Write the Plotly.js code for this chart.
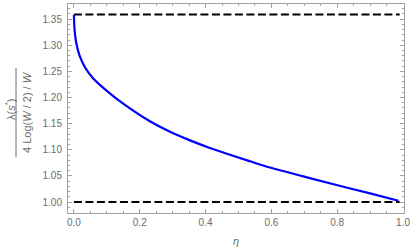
<!DOCTYPE html>
<html>
<head>
<meta charset="utf-8">
<script src="https://cdn.plot.ly/plotly-3.0.1.min.js"></script>
<style>html,body{margin:0;padding:0;background:#fff;}#chart{width:411px;height:251px;}</style>
</head>
<body>
<div id="chart"></div>
<script>
// Curve: ratio lambda(s*) / (4 Log(W/2)/W) versus eta
const etaValues = [0.0, 0.002, 0.007, 0.017, 0.033, 0.058, 0.093, 0.134, 0.231, 0.292, 0.353, 0.413, 0.474, 0.535, 0.596, 0.697, 0.798, 0.9, 0.986];
const ratioValues = [1.358, 1.3295, 1.305, 1.2805, 1.2585, 1.237, 1.2165, 1.1955, 1.1545, 1.1345, 1.118, 1.1035, 1.0905, 1.078, 1.066, 1.049, 1.0325, 1.0165, 1.0025];
// Dashed reference levels
const refX = [0.0, 0.99];
const upperLevel = [1.359, 1.359];
const lowerLevel = [1.0, 1.0];
const xTickVals = [0, 0.2, 0.4, 0.6, 0.8, 1.0];
const xTickText = ['0.0', '0.2', '0.4', '0.6', '0.8', '1.0'];
const yTickVals = [1.00, 1.05, 1.10, 1.15, 1.20, 1.25, 1.30, 1.35];
const yTickText = ['1.00', '1.05', '1.10', '1.15', '1.20', '1.25', '1.30', '1.35'];

const gray = '#6b6b6b';
const frame = '#a0a0a0';
const fontFam = '"Liberation Sans", Arial, sans-serif';

const traces = [
  {x: refX, y: upperLevel, mode: 'lines', line: {color: '#000', width: 2, dash: '8px,3.5px'}, hoverinfo: 'skip'},
  {x: refX, y: lowerLevel, mode: 'lines', line: {color: '#000', width: 2, dash: '8px,3.5px'}, hoverinfo: 'skip'},
  {x: etaValues, y: ratioValues, mode: 'lines', line: {color: '#0000ff', width: 2.2, shape: 'spline', smoothing: 1}}
];

const axisCommon = {
  showline: true, linecolor: frame, linewidth: 1, mirror: 'allticks',
  ticks: 'inside', ticklen: 4, tickcolor: frame, tickwidth: 1,
  showgrid: false, zeroline: false,
  tickfont: {family: fontFam, size: 10, color: gray}
};

const layout = {
  width: 411, height: 251,
  margin: {l: 68, r: 7, t: 4, b: 38},
  paper_bgcolor: '#fff', plot_bgcolor: '#fff',
  showlegend: false,
  xaxis: Object.assign({}, axisCommon, {
    range: [-0.018, 1.003], tickvals: xTickVals, ticktext: xTickText,
    minor: {dtick: 0.05, tick0: 0, ticks: 'inside', ticklen: 2, tickcolor: frame},
    title: {text: '<i>η</i>', font: {family: fontFam, size: 11, color: gray}, standoff: 10}
  }),
  yaxis: Object.assign({}, axisCommon, {
    range: [0.979, 1.379], tickvals: yTickVals, ticktext: yTickText,
    minor: {dtick: 0.01, tick0: 1.0, ticks: 'inside', ticklen: 2, tickcolor: frame},
    ticklabelstandoff: 3
  }),
  annotations: [
    {xref: 'paper', yref: 'paper', x: (10 - 68) / 336, y: (213 - 110) / 209, xanchor: 'center', yanchor: 'middle',
     text: 'λ(<i>s</i><sup>*</sup>)', textangle: -90, showarrow: false, font: {family: fontFam, size: 11, color: gray}},
    {xref: 'paper', yref: 'paper', x: (27 - 68) / 336, y: (213 - 112) / 209, xanchor: 'center', yanchor: 'middle',
     text: '4 Log(<i>W</i> / 2) / <i>W</i>', textangle: -90, showarrow: false, font: {family: fontFam, size: 11, color: gray}}
  ],
  shapes: [
    {type: 'line', xref: 'paper', yref: 'paper', x0: (16 - 68) / 336, x1: (16 - 68) / 336,
     y0: (213 - 157) / 209, y1: (213 - 68) / 209, line: {color: gray, width: 1}}
  ]
};

Plotly.newPlot('chart', traces, layout, {displayModeBar: false, staticPlot: true});
</script>
</body>
</html>
